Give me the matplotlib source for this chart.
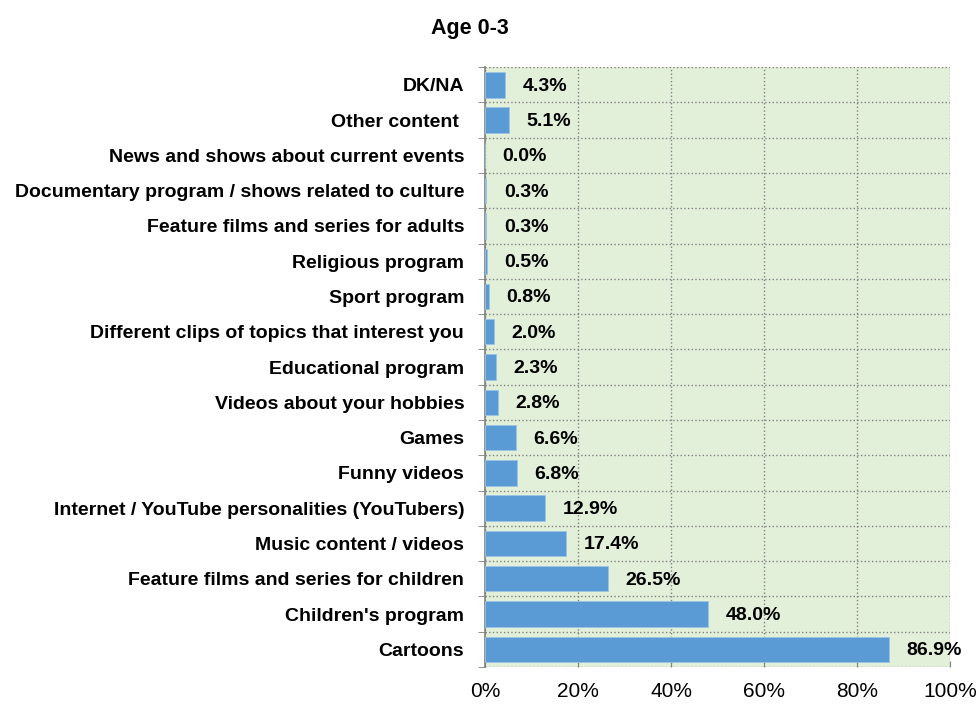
import matplotlib
matplotlib.use("Agg")
import matplotlib.pyplot as plt
from matplotlib.ticker import PercentFormatter, FixedLocator

plt.rcParams['font.family'] = ['Liberation Sans Narrow', 'Liberation Sans', 'DejaVu Sans']
plt.rcParams['font.weight'] = 'bold'

# categories from top to bottom
categories = [
    "DK/NA",
    "Other content ",
    "News and shows about current events",
    "Documentary program / shows related to culture",
    "Feature films and series for adults",
    "Religious program",
    "Sport program",
    "Different clips of topics that interest you",
    "Educational program",
    "Videos about your hobbies",
    "Games",
    "Funny videos",
    "Internet / YouTube personalities (YouTubers)",
    "Music content / videos",
    "Feature films and series for children",
    "Children's program",
    "Cartoons",
]
values = [4.3, 5.1, 0.0, 0.3, 0.3, 0.5, 0.8, 2.0, 2.3, 2.8, 6.6, 6.8, 12.9, 17.4, 26.5, 48.0, 86.9]
title = "Age 0-3"

fig = plt.figure(figsize=(9.79, 7.04), dpi=100)
ax = fig.add_axes([0.4954, 0.0526, 0.475, 0.852])
ax.set_facecolor('#E2F0D9')

n = len(categories)
ypos = list(range(n - 1, -1, -1))
ax.barh(ypos, values, height=0.72, color='#5B9BD5', edgecolor='#9DC3E6', linewidth=0.6, zorder=3)

# value labels to the right of each bar
for y, v in zip(ypos, values):
    ax.annotate(f"{v:.1f}%", (v, y), xytext=(12.5, -1), textcoords='offset points',
                ha='left', va='center', fontsize=14, fontweight='bold', zorder=4)

ax.set_xlim(0, 100)
ax.set_ylim(-0.5, n - 0.5)
ax.set_xticks([0, 20, 40, 60, 80, 100])
ax.xaxis.set_major_formatter(PercentFormatter(decimals=0))
ax.set_yticks(ypos)
ax.set_yticklabels(categories)
ax.yaxis.set_minor_locator(FixedLocator([i - 0.5 for i in range(n + 1)]))
ax.tick_params(axis='y', which='major', length=0, pad=15, labelsize=14)
ax.tick_params(axis='y', which='minor', length=5, color='#808080', direction='out')
ax.tick_params(axis='x', length=4, color='#808080', direction='in', labelsize=15, pad=11)
for lbl in ax.get_xticklabels():
    lbl.set_fontweight('normal')

ax.grid(True, axis='x', which='major', linestyle=':', color='#808080', linewidth=1, zorder=0)
ax.grid(True, axis='y', which='minor', linestyle=':', color='#808080', linewidth=1, zorder=0)
ax.grid(False, axis='y', which='major')

for s in ['top', 'right', 'bottom']:
    ax.spines[s].set_visible(False)
ax.spines['left'].set_color('#808080')
ax.spines['left'].set_linewidth(1.2)

fig.text(0.48, 0.96, title, ha='center', va='center', fontsize=15.5, fontweight='bold')

fig.savefig("out.png", dpi=100)
